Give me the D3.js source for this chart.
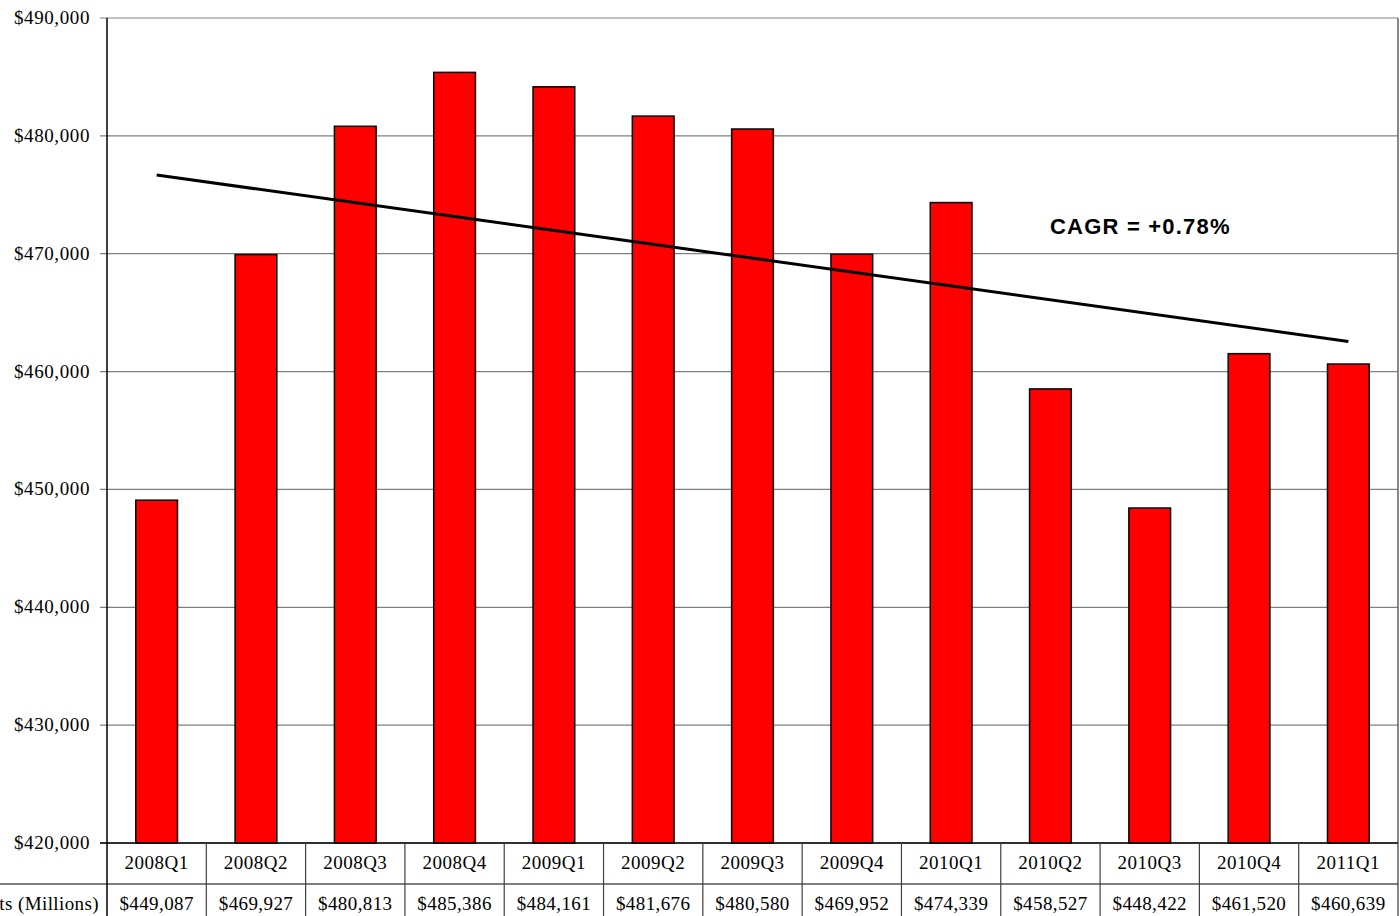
<!DOCTYPE html>
<html>
<head>
<meta charset="utf-8">
<script src="https://cdn.jsdelivr.net/npm/d3@7"></script>
<style>
  html, body { margin: 0; padding: 0; background: #fff; overflow: hidden; }
  svg { display: block; }
</style>
</head>
<body>
<svg id="chart" width="1400" height="916"></svg>
<script>
// Quarterly balances, $ millions
const quarters = ["2008Q1", "2008Q2", "2008Q3", "2008Q4", "2009Q1", "2009Q2", "2009Q3",
                  "2009Q4", "2010Q1", "2010Q2", "2010Q3", "2010Q4", "2011Q1"];
const balances = [449087, 469927, 480813, 485386, 484161, 481676, 480580,
                  469952, 474339, 458527, 448422, 461520, 460639];
const yTicks = [420000, 430000, 440000, 450000, 460000, 470000, 480000, 490000];
const rowLabel = "Total Deposits (Millions)";
const cagrLabel = "CAGR = +0.78%";

const svg = d3.select("#chart");
const plotL = 107, plotR = 1398, plotT = 18, plotB = 843;
const row1 = 884, tableBottom = 930;
const serif = "'Liberation Serif', 'Times New Roman', serif";
const money = v => "$" + d3.format(",")(v);

const x = d3.scaleBand().domain(quarters).range([plotL, plotR]).paddingInner(0.58).paddingOuter(0.29);
const xCell = d3.scaleBand().domain(quarters).range([plotL, plotR]);
const y = d3.scaleLinear().domain([420000, 490000]).range([plotB, plotT]);

// gridlines + tick marks
svg.append("g").selectAll("line").data(yTicks).join("line")
  .attr("x1", plotL - 7).attr("x2", plotR)
  .attr("y1", d => y(d)).attr("y2", d => y(d))
  .attr("stroke", "#808080").attr("stroke-width", 1.2);

// y tick labels
svg.append("g").selectAll("text").data(yTicks).join("text")
  .attr("x", 90).attr("y", d => y(d) + 6)
  .attr("text-anchor", "end")
  .attr("font-family", serif).attr("font-size", 19).attr("letter-spacing", 0.6).attr("fill", "#000")
  .text(money);

// right border of plot
svg.append("line").attr("x1", plotR).attr("x2", plotR).attr("y1", plotT).attr("y2", tableBottom)
  .attr("stroke", "#606060").attr("stroke-width", 1.5);

// bars
svg.append("g").selectAll("rect").data(quarters).join("rect")
  .attr("x", d => x(d)).attr("width", x.bandwidth())
  .attr("y", (d, i) => y(balances[i]))
  .attr("height", (d, i) => y(420000) - y(balances[i]))
  .attr("fill", "#ff0000").attr("stroke", "#000").attr("stroke-width", 1.5);

// linear trendline (least squares over quarter index)
const n = balances.length;
const idx = d3.range(n);
const mx = d3.mean(idx), my = d3.mean(balances);
const slope = d3.sum(idx, i => (i - mx) * (balances[i] - my)) / d3.sum(idx, i => (i - mx) ** 2);
const fit = i => my + slope * (i - mx);
const cx = q => xCell(q) + xCell.bandwidth() / 2;
svg.append("line")
  .attr("x1", cx(quarters[0])).attr("y1", y(fit(0)))
  .attr("x2", cx(quarters[n - 1])).attr("y2", y(fit(n - 1)))
  .attr("stroke", "#000").attr("stroke-width", 3);

svg.append("text").attr("x", 1050).attr("y", 234)
  .attr("font-family", "'Liberation Sans', Arial, sans-serif").attr("font-weight", "bold")
  .attr("font-size", 22).attr("letter-spacing", 1.2).attr("fill", "#000").text(cagrLabel);

// data table below the axis
svg.append("line").attr("x1", plotL - 7).attr("x2", plotR).attr("y1", plotB).attr("y2", plotB)
  .attr("stroke", "#000").attr("stroke-width", 1.5);
svg.append("line").attr("x1", 0).attr("x2", plotR).attr("y1", row1).attr("y2", row1)
  .attr("stroke", "#000").attr("stroke-width", 1.2);
svg.append("g").selectAll("line").data(quarters.slice(1)).join("line")
  .attr("x1", d => xCell(d)).attr("x2", d => xCell(d))
  .attr("y1", plotB).attr("y2", tableBottom)
  .attr("stroke", "#404040").attr("stroke-width", 1.2);

svg.append("g").selectAll("text").data(quarters).join("text")
  .attr("x", cx).attr("y", 869).attr("text-anchor", "middle")
  .attr("font-family", serif).attr("font-size", 19).attr("letter-spacing", 0.5)
  .attr("fill", "#000").text(d => d);

svg.append("g").selectAll("text").data(quarters).join("text")
  .attr("x", cx).attr("y", 910).attr("text-anchor", "middle")
  .attr("font-family", serif).attr("font-size", 19).attr("letter-spacing", 0.4).attr("fill", "#000")
  .text((d, i) => money(balances[i]));

svg.append("text").attr("x", 99).attr("y", 910).attr("text-anchor", "end")
  .attr("font-family", serif).attr("font-size", 19).attr("letter-spacing", 0.4)
  .attr("fill", "#000").text(rowLabel);

// value axis line
svg.append("line").attr("x1", plotL).attr("x2", plotL).attr("y1", plotT).attr("y2", tableBottom)
  .attr("stroke", "#000").attr("stroke-width", 1.5);
</script>
</body>
</html>
